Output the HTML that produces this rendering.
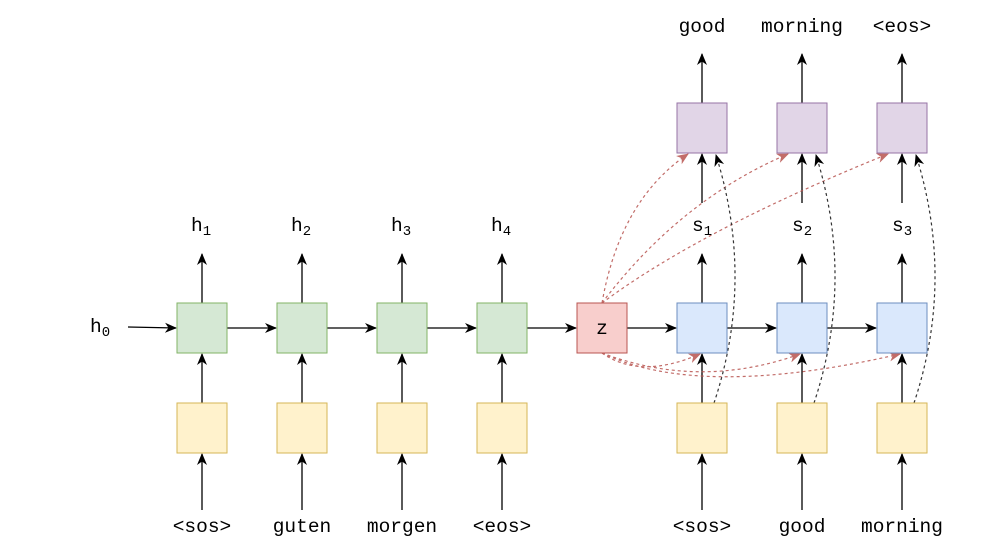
<!DOCTYPE html>
<html><head><style>body{margin:0;background:#fff}svg{display:block}text{font-family:"Liberation Mono",monospace;font-size:19.5px;fill:#000}</style></head><body>
<svg width="987" height="554" xmlns="http://www.w3.org/2000/svg">
<defs>
<marker id="a" markerWidth="12" markerHeight="12" refX="11" refY="6" orient="auto" markerUnits="userSpaceOnUse"><path d="M0,1 L12,6 L0,11 L3.5,6 z" fill="#000"/></marker>
<marker id="r" markerWidth="12" markerHeight="12" refX="11" refY="6" orient="auto" markerUnits="userSpaceOnUse"><path d="M0,1 L12,6 L0,11 L3.5,6 z" fill="#b85450"/></marker>
</defs>
<g stroke="#000" stroke-width="1.3" fill="none" marker-end="url(#a)">
<line x1="128" y1="327" x2="176" y2="328"/>
<line x1="227" y1="328" x2="276" y2="328"/><line x1="327" y1="328" x2="376" y2="328"/><line x1="427" y1="328" x2="476" y2="328"/><line x1="527" y1="328" x2="576" y2="328"/><line x1="627" y1="328" x2="676" y2="328"/><line x1="727" y1="328" x2="776" y2="328"/><line x1="827" y1="328" x2="876" y2="328"/>
<line x1="202" y1="303" x2="202" y2="254"/><line x1="302" y1="303" x2="302" y2="254"/><line x1="402" y1="303" x2="402" y2="254"/><line x1="502" y1="303" x2="502" y2="254"/>
<line x1="702" y1="303" x2="702" y2="254"/><line x1="802" y1="303" x2="802" y2="254"/><line x1="902" y1="303" x2="902" y2="254"/>
<line x1="702" y1="203" x2="702" y2="154"/><line x1="802" y1="203" x2="802" y2="154"/><line x1="902" y1="203" x2="902" y2="154"/>
<line x1="702" y1="103" x2="702" y2="54"/><line x1="802" y1="103" x2="802" y2="54"/><line x1="902" y1="103" x2="902" y2="54"/>
<line x1="202" y1="403" x2="202" y2="354"/><line x1="302" y1="403" x2="302" y2="354"/><line x1="402" y1="403" x2="402" y2="354"/><line x1="502" y1="403" x2="502" y2="354"/>
<line x1="702" y1="403" x2="702" y2="354"/><line x1="802" y1="403" x2="802" y2="354"/><line x1="902" y1="403" x2="902" y2="354"/>
<line x1="202" y1="510" x2="202" y2="454"/><line x1="302" y1="510" x2="302" y2="454"/><line x1="402" y1="510" x2="402" y2="454"/><line x1="502" y1="510" x2="502" y2="454"/>
<line x1="702" y1="510" x2="702" y2="454"/><line x1="802" y1="510" x2="802" y2="454"/><line x1="902" y1="510" x2="902" y2="454"/>
</g>
<g stroke="#b85450" stroke-width="1.2" fill="none" stroke-dasharray="3,3" marker-end="url(#r)" opacity="0.85">
<path d="M602,303 Q620,200 688,154"/>
<path d="M602,303 Q680,200 788,154"/>
<path d="M602,303 Q700,230 888,154"/>
<path d="M602,353 Q640,380 700,354"/>
<path d="M602,353 Q700,390 800,354"/>
<path d="M602,353 Q700,400 900,354"/>
</g>
<g stroke="#333" stroke-width="1.2" fill="none" stroke-dasharray="3,3" marker-end="url(#a)">
<path d="M714,403 Q755,280 716,155"/>
<path d="M814,403 Q855,280 816,155"/>
<path d="M914,403 Q955,280 916,155"/>
</g>
<g stroke-width="1">
<rect x="177" y="303" width="50" height="50" fill="#d5e8d4" stroke="#82b366"/><rect x="277" y="303" width="50" height="50" fill="#d5e8d4" stroke="#82b366"/><rect x="377" y="303" width="50" height="50" fill="#d5e8d4" stroke="#82b366"/><rect x="477" y="303" width="50" height="50" fill="#d5e8d4" stroke="#82b366"/>
<rect x="577" y="303" width="50" height="50" fill="#f8cecc" stroke="#b85450"/>
<rect x="677" y="303" width="50" height="50" fill="#dae8fc" stroke="#6c8ebf"/><rect x="777" y="303" width="50" height="50" fill="#dae8fc" stroke="#6c8ebf"/><rect x="877" y="303" width="50" height="50" fill="#dae8fc" stroke="#6c8ebf"/>
<rect x="677" y="103" width="50" height="50" fill="#e1d5e7" stroke="#9673a6"/><rect x="777" y="103" width="50" height="50" fill="#e1d5e7" stroke="#9673a6"/><rect x="877" y="103" width="50" height="50" fill="#e1d5e7" stroke="#9673a6"/>
<rect x="177" y="403" width="50" height="50" fill="#fff2cc" stroke="#d6b656"/><rect x="277" y="403" width="50" height="50" fill="#fff2cc" stroke="#d6b656"/><rect x="377" y="403" width="50" height="50" fill="#fff2cc" stroke="#d6b656"/><rect x="477" y="403" width="50" height="50" fill="#fff2cc" stroke="#d6b656"/>
<rect x="677" y="403" width="50" height="50" fill="#fff2cc" stroke="#d6b656"/><rect x="777" y="403" width="50" height="50" fill="#fff2cc" stroke="#d6b656"/><rect x="877" y="403" width="50" height="50" fill="#fff2cc" stroke="#d6b656"/>
</g>
<text x="602" y="334" text-anchor="middle">z</text>
<text x="90" y="332">h<tspan font-size="14" dy="4">0</tspan></text>
<text x="191" y="231">h<tspan font-size="14" dy="4">1</tspan></text>
<text x="291" y="231">h<tspan font-size="14" dy="4">2</tspan></text>
<text x="391" y="231">h<tspan font-size="14" dy="4">3</tspan></text>
<text x="491" y="231">h<tspan font-size="14" dy="4">4</tspan></text>
<text x="692" y="231">s<tspan font-size="14" dy="4">1</tspan></text>
<text x="792" y="231">s<tspan font-size="14" dy="4">2</tspan></text>
<text x="892" y="231">s<tspan font-size="14" dy="4">3</tspan></text>
<g text-anchor="middle">
<text x="702" y="32">good</text><text x="802" y="32">morning</text><text x="902" y="32">&lt;eos&gt;</text>
<text x="202" y="532">&lt;sos&gt;</text><text x="302" y="532">guten</text><text x="402" y="532">morgen</text><text x="502" y="532">&lt;eos&gt;</text>
<text x="702" y="532">&lt;sos&gt;</text><text x="802" y="532">good</text><text x="902" y="532">morning</text>
</g>
</svg>
</body></html>
